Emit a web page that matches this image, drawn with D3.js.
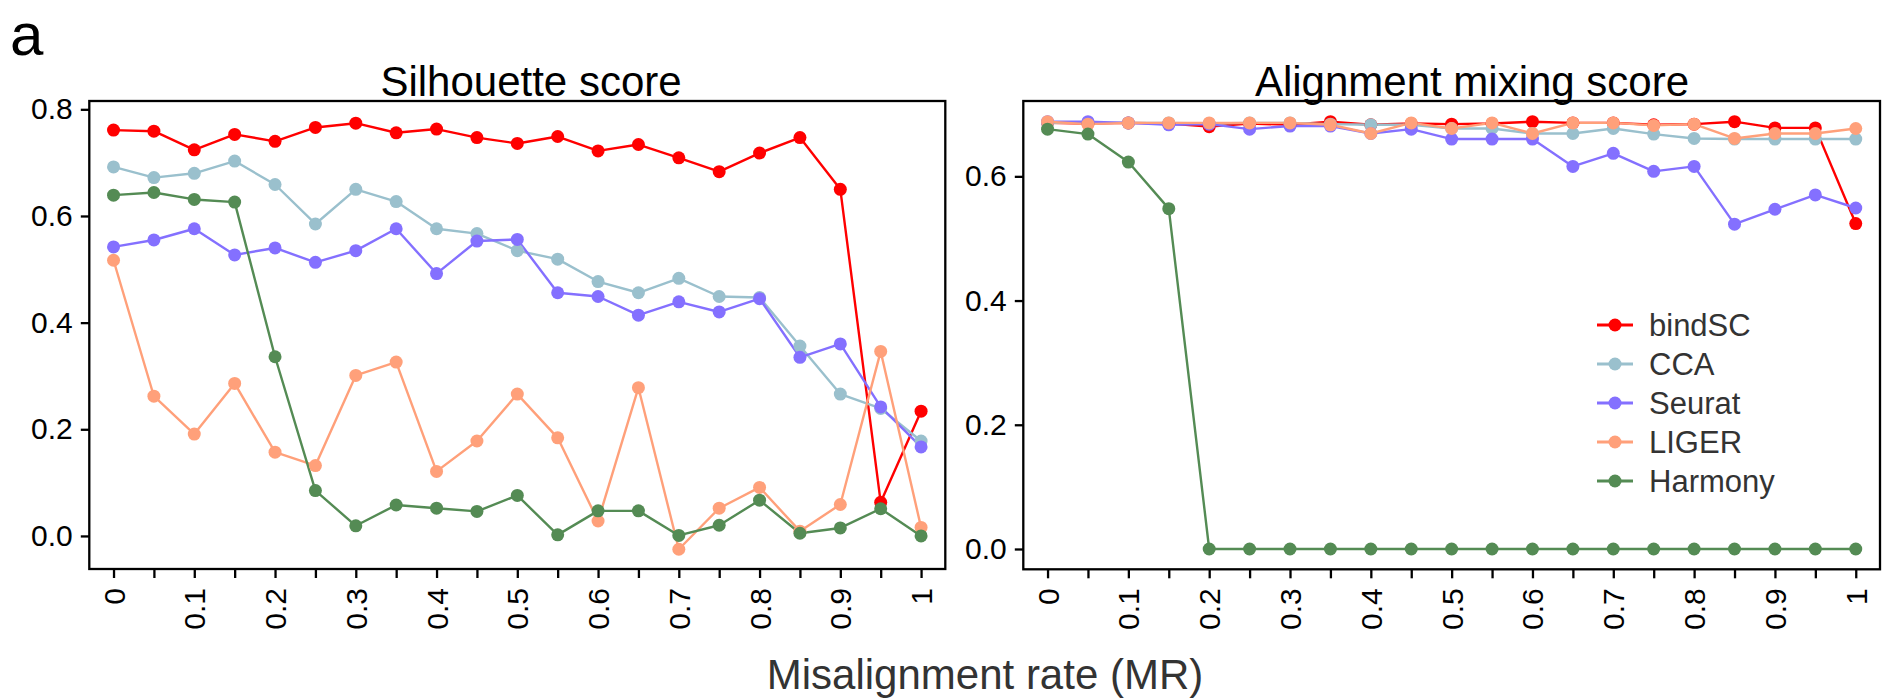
<!DOCTYPE html>
<html>
<head>
<meta charset="utf-8">
<script src="https://cdn.jsdelivr.net/npm/d3@7"></script>
<style>
  html, body { margin: 0; padding: 0; background: #fff; }
  svg { display: block; font-family: "Liberation Sans", Arial, Helvetica, sans-serif; }
</style>
</head>
<body>
<svg id="chart" width="1895" height="699"></svg>
<script>
// ---------- data ----------
const mrRates = ["0","0.05","0.1","0.15","0.2","0.25","0.3","0.35","0.4","0.45","0.5",
                 "0.55","0.6","0.65","0.7","0.75","0.8","0.85","0.9","0.95","1"];
const mrTickLabels = ["0","","0.1","","0.2","","0.3","","0.4","","0.5",
                      "","0.6","","0.7","","0.8","","0.9","","1"];
const methods = ["bindSC", "CCA", "Seurat", "LIGER", "Harmony"];
const methodColors = ["#FF0000", "#9AC0CD", "#8470FF", "#FFA07A", "#548B54"];

// Silhouette score
const silBindSC  = [0.761,0.759,0.724,0.753,0.740,0.766,0.774,0.756,0.763,0.747,0.736,0.749,0.722,0.734,0.709,0.683,0.718,0.747,0.650,0.063,0.234];
const silCCA     = [0.692,0.672,0.680,0.703,0.659,0.585,0.650,0.627,0.576,0.567,0.535,0.519,0.477,0.456,0.483,0.449,0.447,0.356,0.266,0.239,0.178];
const silSeurat  = [0.542,0.555,0.576,0.527,0.540,0.513,0.535,0.576,0.492,0.553,0.556,0.456,0.449,0.414,0.439,0.420,0.445,0.335,0.360,0.242,0.167];
const silLIGER   = [0.517,0.262,0.191,0.286,0.157,0.132,0.301,0.326,0.121,0.178,0.266,0.184,0.028,0.278,-0.025,0.052,0.091,0.009,0.059,0.346,0.016];
const silHarmony = [0.639,0.644,0.631,0.626,0.336,0.085,0.019,0.058,0.052,0.046,0.076,0.002,0.047,0.047,0.001,0.020,0.067,0.005,0.015,0.051,0.000];

// Alignment mixing score
const amsBindSC  = [0.686,0.685,0.686,0.685,0.680,0.685,0.683,0.688,0.683,0.685,0.684,0.685,0.688,0.686,0.686,0.683,0.684,0.688,0.678,0.678,0.524];
const amsCCA     = [0.686,0.686,0.686,0.686,0.685,0.686,0.686,0.684,0.683,0.683,0.677,0.677,0.669,0.669,0.677,0.668,0.661,0.660,0.660,0.660,0.660];
const amsSeurat  = [0.688,0.688,0.686,0.683,0.684,0.676,0.681,0.681,0.669,0.676,0.660,0.660,0.660,0.616,0.637,0.608,0.616,0.523,0.547,0.570,0.549];
const amsLIGER   = [0.688,0.684,0.686,0.686,0.686,0.686,0.686,0.683,0.669,0.686,0.677,0.686,0.669,0.686,0.686,0.682,0.684,0.661,0.669,0.669,0.677];
const amsHarmony = [0.676,0.668,0.623,0.548,0,0,0,0,0,0,0,0,0,0,0,0,0,0,0,0,0];

const silTicks = [0, 0.2, 0.4, 0.6, 0.8];
const amsTicks = [0, 0.2, 0.4, 0.6];
const silDomain = [-0.062, 0.8156];
const amsDomain = [-0.0327, 0.7213];

// ---------- drawing ----------
const svg = d3.select("#chart");
svg.append("rect").attr("width", 1895).attr("height", 699).attr("fill", "#fff");

const FONT = '"Liberation Sans", Arial, Helvetica, sans-serif';

function panel(cfg) {
  const { left, right, top, bottom, title, titleX, series, yDomain, yTicks } = cfg;
  const g = svg.append("g");
  const x = d3.scalePoint().domain(mrRates).range([left, right]).padding(0.6);
  const y = d3.scaleLinear().domain(yDomain).range([bottom, top]);

  // lines first
  series.forEach((vals, k) => {
    const line = d3.line().x((d, i) => x(mrRates[i])).y(d => y(d));
    g.append("path").datum(vals)
      .attr("d", line)
      .attr("fill", "none")
      .attr("stroke", methodColors[k])
      .attr("stroke-width", 2.4)
      .attr("stroke-linejoin", "round");
  });
  // points
  series.forEach((vals, k) => {
    g.append("g").selectAll("circle").data(vals).join("circle")
      .attr("cx", (d, i) => x(mrRates[i]))
      .attr("cy", d => y(d))
      .attr("r", 6.5)
      .attr("fill", methodColors[k]);
  });

  // frame
  g.append("rect")
    .attr("x", left).attr("y", top)
    .attr("width", right - left).attr("height", bottom - top)
    .attr("fill", "none").attr("stroke", "#000").attr("stroke-width", 2.3);

  // y axis
  const ya = g.append("g").attr("transform", `translate(${left},0)`)
    .call(d3.axisLeft(y).tickValues(yTicks).tickFormat(d3.format(".1f")).tickSize(8.5).tickPadding(8));
  ya.select(".domain").remove();
  ya.selectAll(".tick line").attr("stroke", "#000").attr("stroke-width", 2.3);
  ya.selectAll(".tick text").attr("font-size", 30).attr("font-family", FONT).attr("fill", "#000");

  // x axis
  const xa = g.append("g").attr("transform", `translate(0,${bottom})`)
    .call(d3.axisBottom(x).tickFormat((d, i) => mrTickLabels[i]).tickSize(9));
  xa.select(".domain").remove();
  xa.selectAll(".tick line").attr("stroke", "#000").attr("stroke-width", 2.3);
  xa.selectAll(".tick text")
    .attr("font-size", 30).attr("font-family", FONT).attr("fill", "#000")
    .attr("transform", "rotate(-90)")
    .attr("text-anchor", "end")
    .attr("x", -19).attr("y", 0).attr("dy", "0.35em");

  // title
  g.append("text").attr("x", titleX).attr("y", 96)
    .attr("text-anchor", "middle").attr("font-size", 42).attr("font-family", FONT)
    .attr("fill", "#000").text(title);
  return { x, y };
}

panel({
  left: 89.3, right: 945.3, top: 101, bottom: 569,
  title: "Silhouette score", titleX: 531,
  series: [silBindSC, silCCA, silSeurat, silLIGER, silHarmony],
  yDomain: silDomain, yTicks: silTicks
});

panel({
  left: 1023.3, right: 1880, top: 101, bottom: 569.3,
  title: "Alignment mixing score", titleX: 1472,
  series: [amsBindSC, amsCCA, amsSeurat, amsLIGER, amsHarmony],
  yDomain: amsDomain, yTicks: amsTicks
});

// legend
const leg = svg.append("g");
methods.forEach((m, k) => {
  const cy = 325 + k * 39;
  leg.append("line").attr("x1", 1597).attr("x2", 1633).attr("y1", cy).attr("y2", cy)
    .attr("stroke", methodColors[k]).attr("stroke-width", 2.8);
  leg.append("circle").attr("cx", 1615).attr("cy", cy).attr("r", 6.5).attr("fill", methodColors[k]);
  leg.append("text").attr("x", 1649).attr("y", cy).attr("dy", "0.36em")
    .attr("font-size", 31).attr("font-family", FONT).attr("fill", "#333").text(m);
});

// shared x-axis title
svg.append("text").attr("x", 985).attr("y", 689).attr("text-anchor", "middle")
  .attr("font-size", 42).attr("font-family", FONT).attr("fill", "#333")
  .text("Misalignment rate (MR)");

// panel tag
svg.append("text").attr("x", 10).attr("y", 55)
  .attr("font-size", 60).attr("font-family", FONT).attr("fill", "#000").text("a");
</script>
</body>
</html>
